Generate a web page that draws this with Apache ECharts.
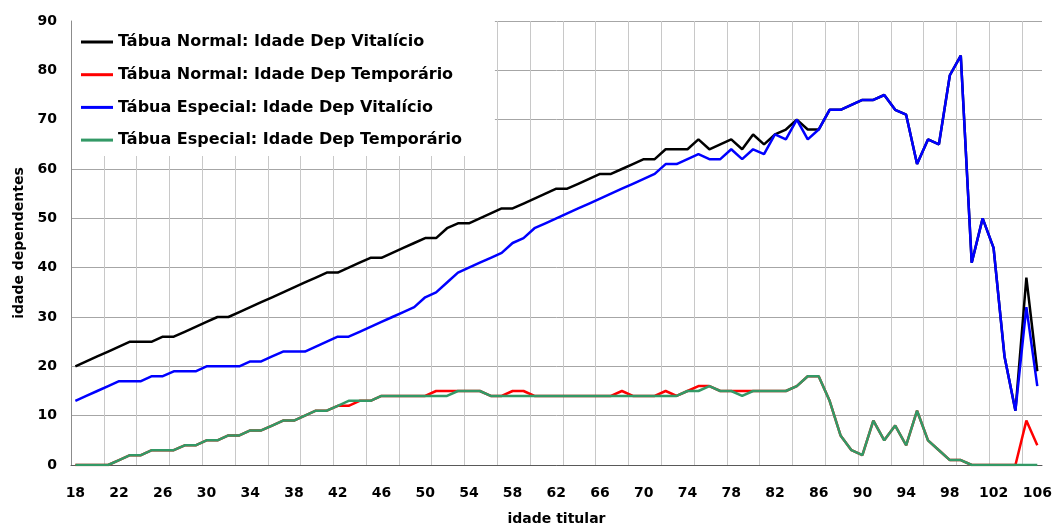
<!DOCTYPE html>
<html>
<head>
<meta charset="utf-8">
<script src="https://cdn.jsdelivr.net/npm/echarts@6/dist/echarts.min.js"></script>
<style>
  html, body { margin: 0; padding: 0; background: #fff; }
  #chart { width: 1055px; height: 528px; }
</style>
</head>
<body>
<div id="chart"></div>
<script>
// Idade do titular (eixo X)
const ages = [
  18, 19, 20, 21, 22, 23, 24, 25, 26, 27,
  28, 29, 30, 31, 32, 33, 34, 35, 36, 37,
  38, 39, 40, 41, 42, 43, 44, 45, 46, 47,
  48, 49, 50, 51, 52, 53, 54, 55, 56, 57,
  58, 59, 60, 61, 62, 63, 64, 65, 66, 67,
  68, 69, 70, 71, 72, 73, 74, 75, 76, 77,
  78, 79, 80, 81, 82, 83, 84, 85, 86, 87,
  88, 89, 90, 91, 92, 93, 94, 95, 96, 97,
  98, 99, 100, 101, 102, 103, 104, 105, 106
];

// Tábua Normal: Idade Dep Vitalício
const normalVitalicio = [
  20, 21, 22, 23, 24, 25, 25, 25, 26, 26,
  27, 28, 29, 30, 30, 31, 32, 33, 34, 35,
  36, 37, 38, 39, 39, 40, 41, 42, 42, 43,
  44, 45, 46, 46, 48, 49, 49, 50, 51, 52,
  52, 53, 54, 55, 56, 56, 57, 58, 59, 59,
  60, 61, 62, 62, 64, 64, 64, 66, 64, 65,
  66, 64, 67, 65, 67, 68, 70, 68, 68, 72,
  72, 73, 74, 74, 75, 72, 71, 61, 66, 65,
  79, 83, 41, 50, 44, 22, 11, 38, 19
];

// Tábua Normal: Idade Dep Temporário
const normalTemporario = [
  0, 0, 0, 0, 1, 2, 2, 3, 3, 3,
  4, 4, 5, 5, 6, 6, 7, 7, 8, 9,
  9, 10, 11, 11, 12, 12, 13, 13, 14, 14,
  14, 14, 14, 15, 15, 15, 15, 15, 14, 14,
  15, 15, 14, 14, 14, 14, 14, 14, 14, 14,
  15, 14, 14, 14, 15, 14, 15, 16, 16, 15,
  15, 15, 15, 15, 15, 15, 16, 18, 18, 13,
  6, 3, 2, 9, 5, 8, 4, 11, 5, 3,
  1, 1, 0, 0, 0, 0, 0, 9, 4
];

// Tábua Especial: Idade Dep Vitalício
const especialVitalicio = [
  13, 14, 15, 16, 17, 17, 17, 18, 18, 19,
  19, 19, 20, 20, 20, 20, 21, 21, 22, 23,
  23, 23, 24, 25, 26, 26, 27, 28, 29, 30,
  31, 32, 34, 35, 37, 39, 40, 41, 42, 43,
  45, 46, 48, 49, 50, 51, 52, 53, 54, 55,
  56, 57, 58, 59, 61, 61, 62, 63, 62, 62,
  64, 62, 64, 63, 67, 66, 70, 66, 68, 72,
  72, 73, 74, 74, 75, 72, 71, 61, 66, 65,
  79, 83, 41, 50, 44, 22, 11, 32, 16
];

// Tábua Especial: Idade Dep Temporário
const especialTemporario = [
  0, 0, 0, 0, 1, 2, 2, 3, 3, 3,
  4, 4, 5, 5, 6, 6, 7, 7, 8, 9,
  9, 10, 11, 11, 12, 13, 13, 13, 14, 14,
  14, 14, 14, 14, 14, 15, 15, 15, 14, 14,
  14, 14, 14, 14, 14, 14, 14, 14, 14, 14,
  14, 14, 14, 14, 14, 14, 15, 15, 16, 15,
  15, 14, 15, 15, 15, 15, 16, 18, 18, 13,
  6, 3, 2, 9, 5, 8, 4, 11, 5, 3,
  1, 1, 0, 0, 0, 0, 0, 0, 0
];

const xTickLabels = [18, 22, 26, 30, 34, 38, 42, 46, 50, 54, 58, 62, 66, 70, 74, 78, 82, 86, 90, 94, 98, 102, 106];

const seriesNames = [
  'Tábua Normal: Idade Dep Vitalício',
  'Tábua Normal: Idade Dep Temporário',
  'Tábua Especial: Idade Dep Vitalício',
  'Tábua Especial: Idade Dep Temporário'
];
const seriesValues = [normalVitalicio, normalTemporario, especialVitalicio, especialTemporario];
const seriesColors = ['#000000', '#ff0000', '#0000ff', '#339966'];

const FONT = 'DejaVu Sans, Verdana, sans-serif';
const X_MIN = 17.6;
const X_MAX = 106.43;

const chart = echarts.init(document.getElementById('chart'), null, { renderer: 'canvas' });

chart.setOption({
  animation: false,
  backgroundColor: '#ffffff',
  grid: { left: 71, right: 13, top: 21, bottom: 63, containLabel: false, outerBoundsMode: 'none' },
  legend: {
    orient: 'vertical',
    left: 72,
    top: 21,
    backgroundColor: '#ffffff',
    padding: [11, 33, 6, 9],
    itemWidth: 32,
    itemHeight: 3,
    itemGap: 12.7,
    icon: 'rect',
    z: 10,
    textStyle: { fontFamily: FONT, fontSize: 16, fontWeight: 'bold', color: '#000', lineHeight: 20 },
    data: seriesNames
  },
  xAxis: [
    {
      type: 'value',
      min: X_MIN,
      max: X_MAX,
      axisLine: { show: true, lineStyle: { color: '#595959', width: 1 } },
      axisTick: { show: false },
      splitLine: { show: false },
      axisLabel: {
        customValues: xTickLabels,
        fontFamily: FONT, fontSize: 14, fontWeight: 'bold', color: '#000', margin: 21
      },
      name: 'idade titular',
      nameLocation: 'middle',
      nameGap: 47,
      nameTextStyle: { fontFamily: FONT, fontSize: 14, fontWeight: 'bold', color: '#000' }
    },
    {
      // vertical grid lines every 3 years, counted from the left edge of the plot
      type: 'value',
      position: 'top',
      min: 0,
      max: X_MAX - X_MIN,
      interval: 3,
      axisLine: { show: false },
      axisTick: { show: false },
      axisLabel: { show: false },
      splitLine: { show: true, showMaxLine: false, lineStyle: { color: '#c8c8c8', width: 1 } }
    }
  ],
  yAxis: {
    type: 'value',
    min: 0,
    max: 90,
    interval: 10,
    axisLine: { show: true, lineStyle: { color: '#8c8c8c', width: 1 } },
    axisTick: { show: false },
    axisLabel: { fontFamily: FONT, fontSize: 14, fontWeight: 'bold', color: '#000', margin: 14 },
    splitLine: { lineStyle: { color: '#a6a6a6', width: 1 } },
    name: 'idade dependentes',
    nameLocation: 'middle',
    nameGap: 44,
    nameTextStyle: { fontFamily: FONT, fontSize: 14, fontWeight: 'bold', color: '#000' }
  },
  series: seriesNames.map((name, i) => ({
    name: name,
    type: 'line',
    xAxisIndex: 0,
    showSymbol: false,
    symbol: 'none',
    color: seriesColors[i],
    lineStyle: { color: seriesColors[i], width: 2.5 },
    data: ages.map((a, k) => [a, seriesValues[i][k]])
  }))
});
</script>
</body>
</html>
